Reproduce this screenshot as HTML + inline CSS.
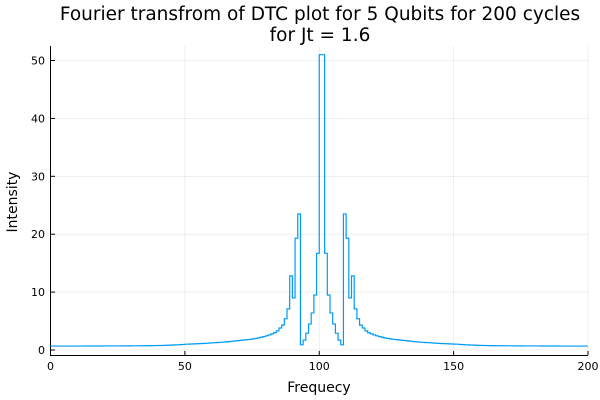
<!DOCTYPE html>
<html><head><meta charset="utf-8"><style>
body{margin:0;background:#fff;}
svg{display:block;font-family:"DejaVu Sans","Liberation Sans",sans-serif;}
</style></head><body>
<svg id="chart" width="600" height="400">
<text x="320" y="20" font-size="18.5" text-anchor="middle" fill="#000">Fourier transfrom of DTC plot for 5 Qubits for 200 cycles</text>
<text x="320" y="41" font-size="18.5" text-anchor="middle" fill="#000">for Jt = 1.6</text>
<g id="grid"></g>
<g id="axes"></g>
<path id="series" fill="none" stroke="#009af9" stroke-width="1.2"></path>
<text x="319" y="392" font-size="14" text-anchor="middle">Frequecy</text>
<text transform="translate(17,202) rotate(-90)" font-size="14" text-anchor="middle">Intensity</text>
</svg>
<script>
const xTicks=[0,50,100,150,200];
const yTicks=[0,10,20,30,40,50];
const leftTail=[0.68,0.68,0.68,0.68,0.68,0.68,0.68,0.68,0.68,0.68,
0.68,0.68,0.68,0.69,0.69,0.69,0.69,0.69,0.69,0.69,
0.70,0.70,0.70,0.70,0.70,0.70,0.71,0.71,0.71,0.71,
0.72,0.72,0.72,0.73,0.73,0.74,0.74,0.75,0.76,0.77,
0.78,0.79,0.80,0.82,0.84,0.86,0.88,0.90,0.93,0.96,
1.00,1.02,1.04,1.06,1.08,1.10,1.12,1.15,1.18,1.21,
1.24,1.27,1.30,1.33,1.37,1.41,1.45,1.50,1.55,1.60,
1.65,1.70,1.75,1.80,1.85,1.92,2.00,2.10,2.20,2.32,
2.45,2.60,2.78,2.98,3.30];
const core=[3.8,4.3,5.4,7.1,12.8,9.0,19.3,23.5,0.9,1.7,2.9,4.5,6.4,9.5,16.7,51,51,16.7,9.5,6.4,4.5,2.9,1.7,0.9,23.5,19.3,9.0,12.8,7.1,5.4,4.3,3.8];
const rightTail=[3.30,2.98,2.78,2.60,2.45,2.32,2.20,2.10,2.00,1.92,
1.85,1.80,1.75,1.70,1.65,1.60,1.55,1.50,1.45,1.41,
1.37,1.33,1.30,1.27,1.24,1.21,1.18,1.15,1.12,1.10,
1.08,1.06,1.04,1.02,1.00,0.96,0.93,0.90,0.88,0.86,
0.84,0.82,0.80,0.79,0.78,0.77,0.76,0.75,0.74,0.74,
0.73,0.73,0.72,0.72,0.72,0.71,0.71,0.71,0.71,0.70,
0.70,0.70,0.70,0.70,0.70,0.69,0.69,0.69,0.69,0.69,
0.69,0.69,0.68,0.68,0.68,0.68,0.68,0.68,0.68,0.68,
0.68,0.68,0.68,0.68];
const values=leftTail.concat(core,rightTail);
const X0=50.5,X1=588,Y0=350,YS=5.79;
const xs=v=>X0+(v)*(X1-X0)/200;
const ys=v=>Y0-v*YS;
const NS="http://www.w3.org/2000/svg";
const grid=document.getElementById('grid'),axes=document.getElementById('axes');
function mk(tag,attrs,parent){const e=document.createElementNS(NS,tag);for(const k in attrs)e.setAttribute(k,attrs[k]);parent.appendChild(e);return e;}
xTicks.forEach(t=>{
 const g=mk('line',{x1:xs(t),x2:xs(t),y1:46,y2:355,stroke:'#000','stroke-opacity':0.1,'stroke-width':0.6},grid);
 
 
 const tk=mk('line',{x1:xs(t),x2:xs(t),y1:355,y2:351,stroke:'#000','stroke-width':1},axes);
 
 
 const lb=mk('text',{x:xs(t),y:370,'font-size':11,'text-anchor':'middle'},axes);
 lb.textContent=t;
 
 
});
yTicks.forEach(t=>{
 const g=mk('line',{x1:50.5,x2:588,y1:ys(t),y2:ys(t),stroke:'#000','stroke-opacity':0.1,'stroke-width':0.6},grid);
 
 
 const tk=mk('line',{x1:50.5,x2:55,y1:ys(t),y2:ys(t),stroke:'#000','stroke-width':1},axes);
 
 
 const lb=mk('text',{x:45,y:ys(t)+4,'font-size':11,'text-anchor':'end'},axes);
 lb.textContent=t;
 
 
});
const ax=mk('path',{d:`M50.5,46V355.5H588`,stroke:'#000','stroke-width':1,fill:'none'},axes);


let d='';
values.forEach((v,i)=>{
 const a=xs(i),b=xs(Math.min(i+1,200)),y=ys(v);
 d+=(i===0?'M':'L')+a.toFixed(2)+','+y.toFixed(2)+'L'+b.toFixed(2)+','+y.toFixed(2);
});
document.getElementById('series').setAttribute('d',d);
</script>
</body></html>
